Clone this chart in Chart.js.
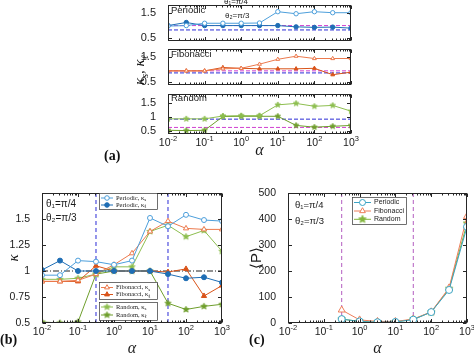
<!DOCTYPE html>
<html>
<head>
<meta charset="utf-8">
<script src="https://cdn.jsdelivr.net/npm/chart.js@4/dist/chart.umd.min.js"></script>
<style>
  body { margin: 0; background: #fff; width: 474px; height: 358px; position: relative; overflow: hidden; }
  canvas { position: absolute; }
  .plab { position: absolute; font: bold 14px "Liberation Serif", "Times New Roman", serif; color: #111; }
  #ya { position: absolute; left: 140px; top: 70px; transform: translate(-50%, -50%) rotate(-90deg);
        white-space: nowrap; font: italic 15px "Liberation Serif", serif; color: #111; }
  #ya sub { font-size: 10px; }
</style>
</head>
<body>
<canvas id="a1" width="236" height="46" style="left:120px;top:0px"></canvas>
<canvas id="a2" width="236" height="46" style="left:120px;top:44px"></canvas>
<canvas id="a3" width="250" height="71" style="left:120px;top:89px"></canvas>
<canvas id="b" width="240" height="173" style="left:0px;top:185px"></canvas>
<canvas id="c" width="234" height="173" style="left:240px;top:185px"></canvas>
<div id="ya">κ<sub>s</sub>, κ<sub>ℓ</sub></div>
<div class="plab" style="left:104px;top:148px">(a)</div>
<div class="plab" style="left:0px;top:332px">(b)</div>
<div class="plab" style="left:249px;top:332px">(c)</div>
<script>
// x values (alpha)
const alphaK = [0.01, 0.0316, 0.1, 0.316, 1, 3.16, 10, 31.6, 100, 316, 1000];
const alphaP = [0.316, 1, 3.16, 10, 31.6, 100, 316, 1000];
const decades = [0.01, 0.1, 1, 10, 100, 1000];
const decadeExp = ['-2', '-1', '0', '1', '2', '3'];
const regionEdges = [0.316, 31.6];

// (a) kappa_s / kappa_l per sequence
const aPerS = [0.98, 1.00, 1.09, 1.09, 1.09, 1.10, 1.54, 1.46, 1.54, 1.50, 1.50];
const aPerL = [1.00, 1.12, 1.00, 1.00, 1.00, 1.00, 1.00, 0.95, 0.93, 0.94, 0.90];
const aFibS = [0.95, 0.95, 0.95, 1.03, 1.05, 1.21, 1.40, 1.52, 1.43, 1.43, 1.43];
const aFibL = [0.95, 0.95, 0.95, 1.08, 1.05, 1.03, 1.03, 1.03, 1.05, 0.80, 0.90];
const aRandS = [0.93, 0.93, 0.93, 1.03, 1.04, 1.04, 1.42, 1.47, 1.37, 1.40, 1.20];
const aRandL = [0.53, 0.52, 0.53, 1.01, 1.02, 1.02, 1.02, 0.70, 0.64, 0.67, 0.70];
const aRefBlue = [0.83, 0.87, 0.92];
const aRefMag = [1.00, 0.95, 0.63];
const aTicks = [0.5, 1, 1.5];

// (b)
const bPerS = [0.96, 0.96, 1.10, 1.09, 1.06, 1.10, 1.51, 1.43, 1.54, 1.49, 1.48];
const bPerL = [1.01, 1.10, 1.00, 1.00, 1.00, 1.00, 1.00, 0.97, 0.93, 0.94, 0.89];
const bFibS = [0.90, 0.90, 0.91, 0.97, 1.06, 1.17, 1.38, 1.48, 1.41, 1.40, 1.40];
const bFibL = [0.90, 0.90, 0.90, 1.05, 1.00, 1.00, 1.00, 0.99, 1.02, 0.76, 0.86];
const bRandS = [0.92, 0.92, 0.93, 0.97, 1.04, 1.04, 1.38, 1.44, 1.33, 1.39, 1.19];
const bRandL = [0.51, 0.50, 0.51, 0.97, 1.00, 1.00, 1.00, 0.69, 0.63, 0.66, 0.68];
const bTicks = [0.5, 0.75, 1, 1.25, 1.5];

// (c) <P>
const pPer = [15, 6, 3, 4, 13, 42, 127, 370];
const pFib = [50, 12, 6, 6, 15, 43, 135, 410];
const pRand = [15, 6, 3, 4, 14, 42, 132, 383];
const cTicks = [0, 100, 200, 300, 400, 500];

const SANS = '"Liberation Sans", Arial, sans-serif';
const SERIF = '"Liberation Serif", "Times New Roman", serif';
const TXT = '#1a1a1a';
const AX = '#262626';

const C = {
  perS: '#4d9fdb', perL: '#1f6eb5',
  fibS: '#ec7a4e', fibL: '#d95319',
  randS: '#8dbe4f', randL: '#6e9e2c',
  cPer: '#3ba3c4', cFib: '#ee7e5a', cRand: '#82b53b',
  blue: '#2b2bd6', mag: '#d040d0', cMag: '#b35dc0'
};

// minor + major tick positions on the log axis
const xTickVals = [];
for (let e = -2; e < 3; e++) for (let m = 1; m < 10; m++) xTickVals.push(m * Math.pow(10, e));
xTickVals.push(1000);
const isDecade = v => decades.some(d => Math.abs(d - v) < d * 1e-6);

function starImg(r, fill, stroke) {
  const c = document.createElement('canvas');
  const s = Math.ceil(r * 2 + 2);
  c.width = c.height = s;
  const g = c.getContext('2d');
  g.beginPath();
  for (let i = 0; i < 10; i++) {
    const rr = i % 2 ? r * 0.45 : r;
    const a = -Math.PI / 2 + i * Math.PI / 5;
    g.lineTo(s / 2 + rr * Math.cos(a), s / 2 + rr * Math.sin(a));
  }
  g.closePath();
  g.fillStyle = fill; g.fill();
  g.strokeStyle = stroke; g.lineWidth = 0.8; g.stroke();
  return c;
}

function drawMarker(ctx, m, x, y) {
  ctx.save();
  ctx.strokeStyle = m.color; ctx.fillStyle = m.filled ? m.color : '#fff'; ctx.lineWidth = 1;
  if (m.kind === 'star') {
    ctx.drawImage(m.img, x - m.img.width / 2, y - m.img.height / 2);
  } else {
    ctx.beginPath();
    if (m.kind === 'circle') ctx.arc(x, y, m.r, 0, Math.PI * 2);
    else { ctx.moveTo(x, y - m.r); ctx.lineTo(x + m.r * 0.87, y + m.r * 0.5); ctx.lineTo(x - m.r * 0.87, y + m.r * 0.5); ctx.closePath(); }
    ctx.fill(); ctx.stroke();
  }
  ctx.restore();
}

function drawLegend(ctx, lg) {
  ctx.save();
  ctx.fillStyle = '#fff';
  ctx.fillRect(lg.x, lg.y, lg.w, lg.h);
  ctx.strokeStyle = '#333'; ctx.lineWidth = 0.7;
  ctx.strokeRect(lg.x + 0.5, lg.y + 0.5, lg.w, lg.h);
  lg.items.forEach(it => {
    ctx.strokeStyle = it.color; ctx.lineWidth = 1;
    ctx.beginPath(); ctx.moveTo(lg.x + 2, it.y); ctx.lineTo(lg.x + 2 + lg.line, it.y); ctx.stroke();
    drawMarker(ctx, it, lg.x + 2 + lg.line / 2, it.y);
    ctx.fillStyle = TXT; ctx.font = lg.font; ctx.textBaseline = 'middle'; ctx.textAlign = 'left';
    const tx = lg.x + lg.line + 5;
    ctx.fillText(it.label, tx, it.y);
    if (it.sub) {
      const w = ctx.measureText(it.label).width;
      ctx.font = lg.subFont;
      ctx.fillText(it.sub, tx + w, it.y + 2);
    }
  });
  ctx.restore();
}

// axes box with inward MATLAB-style ticks, 10^n labels, texts and legends
function deco(texts, legends, xLabels) {
  return {
    id: 'deco',
    afterDraw(chart) {
      const { ctx, chartArea: a } = chart;
      const xs = chart.scales.x, ys = chart.scales.y;
      const L = Math.round(a.left) + 0.5, R = Math.round(a.right) - 0.5;
      const T = Math.round(a.top) + 0.5, B = Math.round(a.bottom) - 0.5;
      ctx.save();
      ctx.strokeStyle = AX; ctx.lineWidth = 1;
      ctx.beginPath();
      xTickVals.forEach(v => {
        const p = Math.round(xs.getPixelForValue(v)) + 0.5;
        const len = isDecade(v) ? 3.5 : 2;
        ctx.moveTo(p, B); ctx.lineTo(p, B - len);
        ctx.moveTo(p, T); ctx.lineTo(p, T + len);
      });
      ys.ticks.forEach(t => {
        const p = Math.round(ys.getPixelForValue(t.value)) + 0.5;
        ctx.moveTo(L, p); ctx.lineTo(L + 3.5, p);
        ctx.moveTo(R, p); ctx.lineTo(R - 3.5, p);
      });
      ctx.stroke();
      ctx.strokeRect(L, T, R - L, B - T);
      if (xLabels) {
        ctx.fillStyle = TXT; ctx.textBaseline = 'middle'; ctx.textAlign = 'left';
        decades.forEach((d, i) => {
          const p = xs.getPixelForValue(d);
          ctx.font = '10.5px ' + SANS;
          const wb = ctx.measureText('10').width;
          ctx.font = '7.5px ' + SANS;
          const we = ctx.measureText(decadeExp[i]).width;
          const x0 = p - (wb + we) / 2;
          ctx.font = '10.5px ' + SANS;
          ctx.fillText('10', x0, B + 10);
          ctx.font = '7.5px ' + SANS;
          ctx.fillText(decadeExp[i], x0 + wb, B + 5.5);
        });
      }
      (texts || []).forEach(t => {
        ctx.fillStyle = TXT; ctx.font = t.font; ctx.textAlign = 'left'; ctx.textBaseline = 'middle';
        ctx.fillText(t.text, t.x, t.y);
      });
      (legends || []).forEach(lg => drawLegend(ctx, lg));
      ctx.restore();
    }
  };
}

function xAxis(showTitle, h, titlePad) {
  return {
    type: 'logarithmic', min: 0.01, max: 1000,
    grid: { display: false }, border: { display: false },
    afterBuildTicks: s => { s.ticks = xTickVals.map(v => ({ value: v })); },
    afterFit: s => { s.height = h; s.paddingLeft = 0; s.paddingRight = 0; },
    ticks: { display: false },
    title: { display: showTitle, text: 'α', color: TXT, font: { family: SERIF, style: 'italic', size: 16 }, padding: { top: 0, bottom: titlePad || 0 } }
  };
}

function yAxis(min, max, ticks, w, size, title) {
  return {
    min, max,
    grid: { display: false }, border: { display: false },
    afterBuildTicks: s => { s.ticks = ticks.map(v => ({ value: v })); },
    afterFit: s => { s.width = w; s.paddingTop = 0; s.paddingBottom = 0; },
    ticks: { padding: 4, color: TXT, font: { family: SANS, size }, callback: v => String(v) },
    title: title || { display: false }
  };
}

function series(xs, ys, color, marker, filled, r) {
  return {
    data: xs.map((x, i) => ({ x, y: ys[i] })),
    borderColor: color, borderWidth: 1, tension: 0, fill: false,
    pointStyle: marker, pointRadius: r, pointBorderWidth: 1,
    pointBorderColor: color, pointBackgroundColor: filled ? color : '#fff'
  };
}
function hline(y, color, dash) {
  return { data: [{ x: 0.01, y }, { x: 1000, y }], borderColor: color, borderWidth: 1, borderDash: dash, pointRadius: 0 };
}
function vline(x, y0, y1, color, dash) {
  return { data: [{ x, y: y0 }, { x, y: y1 }], borderColor: color, borderWidth: 1, borderDash: dash, pointRadius: 0 };
}

function makeChart(id, datasets, scales, pad, plugin) {
  return new Chart(document.getElementById(id), {
    type: 'line',
    data: { datasets },
    options: {
      responsive: false, animation: false, devicePixelRatio: 1, events: [],
      layout: { padding: { top: pad.top, right: pad.right, left: 0, bottom: 0 } },
      plugins: { legend: { display: false }, tooltip: { enabled: false } },
      scales
    },
    plugins: [plugin]
  });
}

// star markers
const starA_S = starImg(3, C.randS, C.randS), starA_L = starImg(3, C.randL, C.randL);
const starB_S = starImg(3.3, C.randS, C.randS), starB_L = starImg(3.3, C.randL, C.randL);
const starC = starImg(4, C.cRand, C.cRand);

// ---------- panel (a) ----------
const aFont = '9.5px ' + SANS;
const aSub = [
  { id: 'a1', s: aPerS, l: aPerL, cs: C.perS, cl: C.perL, mk: 'circle', name: 'Periodic', i: 0, xh: 1, right: 5 },
  { id: 'a2', s: aFibS, l: aFibL, cs: C.fibS, cl: C.fibL, mk: 'triangle', name: 'Fibonacci', i: 1, xh: 1, right: 5 },
  { id: 'a3', s: aRandS, l: aRandL, cs: C.randS, cl: C.randL, mk: 'star', name: 'Random', i: 2, xh: 26, right: 19 }
];
aSub.forEach(p => {
  const mkS = p.mk === 'star' ? starA_S : p.mk;
  const mkL = p.mk === 'star' ? starA_L : p.mk;
  const texts = [{ text: p.name, x: 51, y: p.i === 2 ? 9 : 10, font: aFont }];
  if (p.i === 0) {
    texts.push({ text: 'θ₁=π/4', x: 104, y: 2, font: '8px ' + SANS });
    texts.push({ text: 'θ₂=π/3', x: 105, y: 16, font: '8px ' + SANS });
  }
  makeChart(p.id, [
    series(alphaK, p.s, p.cs, mkS, false, 2.2),
    series(alphaK, p.l, p.cl, mkL, true, 2.2),
    hline(aRefMag[p.i], C.mag, [4, 2]),
    hline(aRefBlue[p.i], C.blue, [4, 2])
  ], {
    x: xAxis(p.i === 2, p.xh, 0),
    y: yAxis(0.4, 1.8, aTicks, 48, 11)
  }, { top: 1, right: p.right }, deco(texts, [], p.i === 2));
});

// ---------- panel (b) ----------
const bLegFont = '6.5px ' + SERIF, bLegSub = '5px ' + SERIF;
makeChart('b', [
  series(alphaK, bPerS, C.perS, 'circle', false, 2.5),
  series(alphaK, bPerL, C.perL, 'circle', true, 2.5),
  series(alphaK, bFibS, C.fibS, 'triangle', false, 3),
  series(alphaK, bFibL, C.fibL, 'triangle', true, 3),
  series(alphaK, bRandS, C.randS, starB_S, false, 3),
  series(alphaK, bRandL, C.randL, starB_L, true, 3),
  hline(1, '#222', [6, 2, 1, 2]),
  hline(0.505, '#888', [3, 1, 1, 1]),
  vline(regionEdges[0], 0.5, 1.75, C.blue, [4, 3]),
  vline(regionEdges[1], 0.5, 1.75, C.blue, [4, 3])
], {
  x: xAxis(true, 35, 0),
  y: yAxis(0.5, 1.75, bTicks, 42, 10.5,
    { display: true, text: 'κ', color: TXT, font: { family: SERIF, style: 'italic', size: 15 }, padding: { top: 5 } })
}, { top: 8, right: 18 }, deco([
  { text: 'θ₁=π/4', x: 46, y: 19, font: '10px ' + SANS },
  { text: 'θ₂=π/3', x: 46, y: 33, font: '10px ' + SANS }
], [
  { x: 99, y: 8, w: 58, h: 16, line: 12, font: bLegFont, subFont: bLegSub, items: [
    { label: 'Periodic, κ', sub: 's', color: C.perS, kind: 'circle', r: 2.3, filled: false, y: 13 },
    { label: 'Periodic, κ', sub: 'ℓ', color: C.perL, kind: 'circle', r: 2.3, filled: true, y: 20 } ] },
  { x: 99, y: 97, w: 58, h: 17, line: 12, font: bLegFont, subFont: bLegSub, items: [
    { label: 'Fibonacci, κ', sub: 's', color: C.fibS, kind: 'triangle', r: 2.8, filled: false, y: 102.5 },
    { label: 'Fibonacci, κ', sub: 'ℓ', color: C.fibL, kind: 'triangle', r: 2.8, filled: true, y: 109.5 } ] },
  { x: 99, y: 117, w: 58, h: 18, line: 12, font: bLegFont, subFont: bLegSub, items: [
    { label: 'Random, κ', sub: 's', color: C.randS, kind: 'star', img: starB_S, y: 122 },
    { label: 'Random, κ', sub: 'ℓ', color: C.randL, kind: 'star', img: starB_L, y: 130 } ] }
], true));

// ---------- panel (c) ----------
makeChart('c', [
  series(alphaP, pPer, C.cPer, 'circle', false, 3.5),
  series(alphaP, pFib, C.cFib, 'triangle', false, 4),
  series(alphaP, pRand, C.cRand, starC, true, 4),
  vline(regionEdges[0], 0, 500, C.cMag, [4, 3]),
  vline(regionEdges[1], 0, 500, C.cMag, [4, 3])
], {
  x: xAxis(true, 35, 0),
  y: yAxis(0, 500, cTicks, 48, 10.5,
    { display: true, text: '⟨P⟩', color: TXT, font: { family: SANS, size: 15 }, padding: { top: 8 } })
}, { top: 8, right: 7 }, deco([
  { text: 'θ₁=π/4', x: 55, y: 20, font: '9.5px ' + SANS },
  { text: 'θ₂=π/3', x: 55, y: 36, font: '9.5px ' + SANS }
], [
  { x: 112, y: 12, w: 54, h: 27, line: 17, font: '7px ' + SANS, items: [
    { label: 'Periodic', color: C.cPer, kind: 'circle', r: 3, filled: false, y: 17.5 },
    { label: 'Fibonacci', color: C.cFib, kind: 'triangle', r: 3.3, filled: false, y: 26 },
    { label: 'Random', color: C.cRand, kind: 'star', img: starC, y: 34.3 } ] }
], true));
</script>
</body>
</html>
